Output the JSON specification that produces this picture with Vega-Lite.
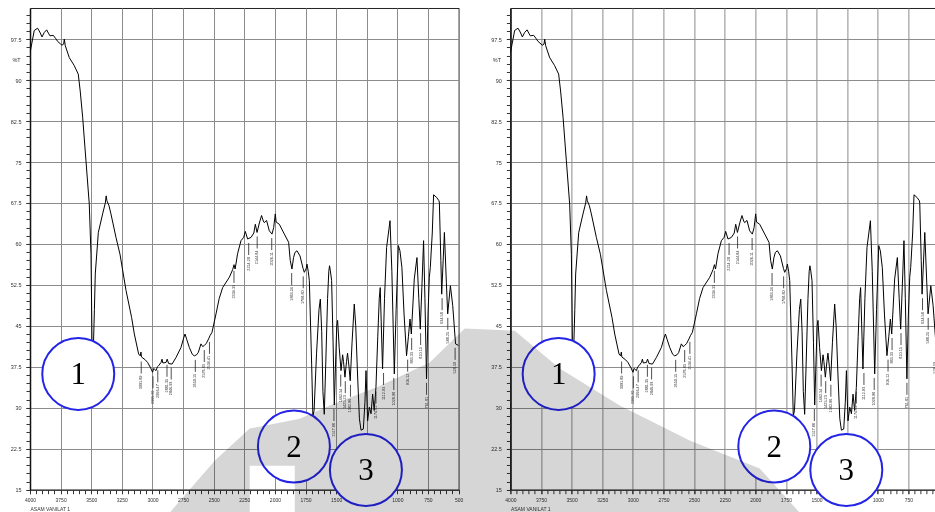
{
  "$schema": "https://vega.github.io/schema/vega-lite/v6.json",
  "background": "white",
  "padding": {"left": 9, "top": 7, "right": 0, "bottom": 0},
  "bounds": "flush",
  "spacing": 51.4,
  "config": {
    "view": {"stroke": "#222", "strokeWidth": 1},
    "font": "Liberation Sans"
  },
  "datasets": {
    "spectrum": [
      {"w":4000,"t":95.0},{"w":3965,"t":99.1},{"w":3938,"t":99.5},{"w":3920,"t":98.8},{"w":3902,"t":97.9},{"w":3884,"t":98.7},{"w":3864,"t":99.2},{"w":3850,"t":98.6},{"w":3837,"t":98.1},{"w":3810,"t":98.2},{"w":3790,"t":97.6},{"w":3775,"t":97.1},{"w":3750,"t":96.6},{"w":3739,"t":96.4},{"w":3725,"t":96.6},{"w":3720,"t":97.5},{"w":3712,"t":96.3},{"w":3700,"t":95.5},{"w":3679,"t":94.1},{"w":3640,"t":92.7},{"w":3606,"t":91.1},{"w":3590,"t":88.0},{"w":3570,"t":83.2},{"w":3543,"t":75.2},{"w":3516,"t":67.3},{"w":3502,"t":58.1},{"w":3496,"t":47.0},{"w":3494,"t":42.3},{"w":3481,"t":42.3},{"w":3474,"t":48.0},{"w":3467,"t":54.5},{"w":3442,"t":62.1},{"w":3407,"t":65.5},{"w":3385,"t":67.5},{"w":3378,"t":68.8},{"w":3372,"t":67.9},{"w":3355,"t":67.0},{"w":3339,"t":65.5},{"w":3298,"t":61.2},{"w":3265,"t":58.1},{"w":3216,"t":51.5},{"w":3170,"t":46.5},{"w":3148,"t":43.5},{"w":3113,"t":39.85},{"w":3100,"t":39.5},{"w":3094,"t":40.2},{"w":3090,"t":39.3},{"w":3060,"t":38.8},{"w":3040,"t":38.3},{"w":3015,"t":37.3},{"w":2999,"t":36.5},{"w":2990,"t":37.2},{"w":2985,"t":37.1},{"w":2971,"t":36.8},{"w":2960,"t":37.5},{"w":2950,"t":37.7},{"w":2930,"t":38.3},{"w":2922,"t":38.9},{"w":2915,"t":38.2},{"w":2889,"t":38.3},{"w":2880,"t":38.9},{"w":2868,"t":38.1},{"w":2840,"t":38.0},{"w":2808,"t":39.2},{"w":2767,"t":41.05},{"w":2745,"t":42.8},{"w":2734,"t":43.5},{"w":2720,"t":42.5},{"w":2699,"t":41.05},{"w":2675,"t":39.8},{"w":2658,"t":39.5},{"w":2640,"t":39.7},{"w":2626,"t":40.1},{"w":2604,"t":41.7},{"w":2590,"t":41.2},{"w":2577,"t":41.4},{"w":2560,"t":41.8},{"w":2542,"t":42.6},{"w":2530,"t":43.2},{"w":2514,"t":43.8},{"w":2481,"t":47.2},{"w":2455,"t":50.0},{"w":2427,"t":52.0},{"w":2372,"t":53.9},{"w":2345,"t":55.3},{"w":2334,"t":56.2},{"w":2325,"t":55.4},{"w":2305,"t":58.2},{"w":2277,"t":60.6},{"w":2255,"t":61.2},{"w":2242,"t":62.3},{"w":2223,"t":60.9},{"w":2195,"t":61.2},{"w":2172,"t":62.0},{"w":2160,"t":63.6},{"w":2146,"t":62.1},{"w":2125,"t":64.0},{"w":2109,"t":65.2},{"w":2095,"t":64.2},{"w":2087,"t":63.9},{"w":2068,"t":64.3},{"w":2046,"t":62.4},{"w":2024,"t":61.8},{"w":2010,"t":63.0},{"w":1997,"t":65.5},{"w":1990,"t":64.0},{"w":1964,"t":63.6},{"w":1923,"t":61.8},{"w":1888,"t":60.3},{"w":1875,"t":57.0},{"w":1861,"t":55.4},{"w":1848,"t":57.5},{"w":1836,"t":58.45},{"w":1820,"t":58.75},{"w":1795,"t":57.8},{"w":1770,"t":55.5},{"w":1760,"t":54.8},{"w":1745,"t":55.5},{"w":1738,"t":56.3},{"w":1728,"t":55.0},{"w":1719,"t":53.3},{"w":1700,"t":38.0},{"w":1690,"t":28.5},{"w":1680,"t":29.5},{"w":1660,"t":40.0},{"w":1640,"t":48.0},{"w":1629,"t":49.9},{"w":1618,"t":44.0},{"w":1608,"t":33.0},{"w":1597,"t":28.8},{"w":1585,"t":38.0},{"w":1570,"t":50.0},{"w":1560,"t":55.0},{"w":1554,"t":56.0},{"w":1548,"t":55.2},{"w":1537,"t":53.3},{"w":1525,"t":42.0},{"w":1515,"t":30.5},{"w":1505,"t":38.0},{"w":1495,"t":45.0},{"w":1488,"t":46.0},{"w":1475,"t":41.0},{"w":1460,"t":36.8},{"w":1447,"t":39.7},{"w":1440,"t":38.5},{"w":1428,"t":35.6},{"w":1415,"t":38.5},{"w":1407,"t":40.0},{"w":1395,"t":37.5},{"w":1385,"t":34.95},{"w":1370,"t":42.0},{"w":1352,"t":49.0},{"w":1340,"t":45.0},{"w":1325,"t":36.0},{"w":1310,"t":28.0},{"w":1297,"t":25.9},{"w":1278,"t":26.1},{"w":1265,"t":31.0},{"w":1256,"t":36.8},{"w":1243,"t":27.6},{"w":1229,"t":30.1},{"w":1215,"t":28.9},{"w":1202,"t":32.5},{"w":1189,"t":29.5},{"w":1175,"t":33.7},{"w":1160,"t":43.0},{"w":1148,"t":50.0},{"w":1140,"t":52.0},{"w":1121,"t":37.1},{"w":1105,"t":50.0},{"w":1088,"t":59.35},{"w":1060,"t":64.25},{"w":1045,"t":55.0},{"w":1025,"t":36.2},{"w":1010,"t":48.0},{"w":992,"t":59.7},{"w":979,"t":58.75},{"w":963,"t":55.7},{"w":945,"t":47.0},{"w":925,"t":39.55},{"w":910,"t":43.0},{"w":897,"t":46.25},{"w":886,"t":43.5},{"w":862,"t":53.6},{"w":840,"t":57.5},{"w":825,"t":50.0},{"w":813,"t":44.4},{"w":800,"t":52.0},{"w":786,"t":60.6},{"w":775,"t":50.0},{"w":762,"t":35.3},{"w":750,"t":47.0},{"w":739,"t":53.9},{"w":731,"t":55.7},{"w":715,"t":62.0},{"w":704,"t":69.0},{"w":679,"t":68.5},{"w":660,"t":67.9},{"w":657,"t":67.5},{"w":645,"t":57.0},{"w":638,"t":50.8},{"w":616,"t":62.1},{"w":600,"t":53.0},{"w":589,"t":47.2},{"w":567,"t":52.35},{"w":548,"t":48.7},{"w":525,"t":41.7},{"w":500,"t":41.4}
    ],
    "peaks": [
      {"w":3091.89,"t":39.2,"label":"3091.89"},
      {"w":2995.81,"t":36.5,"label":"2995.81"},
      {"w":2956.47,"t":37.6,"label":"2956.47"},
      {"w":2881.35,"t":38.6,"label":"2881.35"},
      {"w":2846.93,"t":38.1,"label":"2846.93"},
      {"w":2650.15,"t":39.5,"label":"2650.15"},
      {"w":2576.83,"t":41.3,"label":"2576.83"},
      {"w":2534.41,"t":42.8,"label":"2534.41"},
      {"w":2334.33,"t":55.8,"label":"2334.33"},
      {"w":2214.28,"t":60.9,"label":"2214.28"},
      {"w":2144.84,"t":62.1,"label":"2144.84"},
      {"w":2026.11,"t":61.8,"label":"2026.11"},
      {"w":1863.24,"t":55.4,"label":"1863.24"},
      {"w":1768.80,"t":54.8,"label":"1768.80"},
      {"w":1517.88,"t":30.5,"label":"1517.88"},
      {"w":1462.54,"t":36.8,"label":"1462.54"},
      {"w":1425.23,"t":35.6,"label":"1425.23"},
      {"w":1382.96,"t":34.95,"label":"1382.96"},
      {"w":1174.81,"t":33.7,"label":"1174.81"},
      {"w":1112.93,"t":37.1,"label":"1112.93"},
      {"w":1028.98,"t":36.2,"label":"1028.98"},
      {"w":916.12,"t":39.55,"label":"916.12"},
      {"w":883.33,"t":43.5,"label":"883.33"},
      {"w":810.15,"t":44.4,"label":"810.15"},
      {"w":761.81,"t":35.3,"label":"761.81"},
      {"w":634.58,"t":50.8,"label":"634.58"},
      {"w":588.25,"t":47.2,"label":"588.25"},
      {"w":528.50,"t":41.7,"label":"528.50"}
    ],
    "circles": [
      {"w":3606,"t":36.2,"n":"1"},
      {"w":1845,"t":22.9,"n":"2"},
      {"w":1257,"t":18.6,"n":"3"}
    ],
    "watermark": [
      {"p":"a","w":6782,"t":10.8,"b":10},
      {"p":"a","w":6415,"t":20.3,"b":10},
      {"p":"a","w":6129,"t":26.2,"b":10},
      {"p":"b","w":6129,"t":26.2,"b":19.4},
      {"p":"b","w":5761,"t":27.8,"b":19.4},
      {"p":"c","w":5761,"t":27.8,"b":10},
      {"p":"c","w":5721,"t":28.0,"b":10},
      {"p":"c","w":5476,"t":30.4,"b":10},
      {"p":"c","w":5067,"t":34.0,"b":10},
      {"p":"c","w":4659,"t":38.3,"b":10},
      {"p":"c","w":4373,"t":44.5,"b":10},
      {"p":"c","w":3965,"t":44.1,"b":10},
      {"p":"c","w":3597,"t":37.2,"b":10},
      {"p":"c","w":3107,"t":30.4,"b":10},
      {"p":"c","w":2536,"t":24.0,"b":10},
      {"p":"c","w":1964,"t":18.9,"b":10},
      {"p":"c","w":1638,"t":10.8,"b":10}
    ]
  },
  "hconcat": [
    {
      "width": 428.6,
      "height": 481.7,
      "resolve": {"axis": {"x": "independent", "y": "independent"}},
      "layer": [
        {
          "data": {"name": "spectrum"},
          "mark": {"type": "line", "color": "black", "strokeWidth": 1, "clip": true},
          "encoding": {
            "x": {"field": "w", "type": "quantitative",
              "scale": {"domain": [500, 4000], "reverse": true, "nice": false, "zero": false},
              "axis": {"orient": "bottom", "values": [4000,3750,3500,3250,3000,2750,2500,2250,2000,1750,1500,1250,1000,750,500], "format": "d", "grid": true, "gridColor": "#8c8c8c", "gridWidth": 1, "domainColor": "#222", "tickSize": 4, "tickColor": "#333", "labelFontSize": 5, "labelColor": "#333", "labelPadding": 4, "labelFlush": false, "labelOverlap": false, "title": "ASAM VANILAT 1", "titleFontSize": 5, "titleFontWeight": "normal", "titleColor": "#333", "titleAnchor": "start", "titleAlign": "left", "titleBaseline": "middle", "titleX": 0, "titleY": 19}},
            "y": {"field": "t", "type": "quantitative",
              "scale": {"domain": [15, 103.2], "nice": false, "zero": false},
              "axis": {"orient": "left", "values": [15,22.5,30,37.5,45,52.5,60,67.5,75,82.5,90,97.5], "format": ".1~f", "grid": true, "gridColor": "#8c8c8c", "gridWidth": 1, "domainColor": "#111", "domainWidth": 1.5, "tickSize": 4, "tickColor": "#333", "labelFontSize": 5.5, "labelColor": "#333", "labelPadding": 5, "labelOverlap": false, "title": "%T", "titleAngle": 0, "titleFontSize": 5.5, "titleFontWeight": "normal", "titleColor": "#333", "titleAlign": "center", "titleBaseline": "middle", "titleX": -14, "titleY": 52}}
          }
        },
        {
          "mark": {"type": "rule", "color": "#555", "strokeWidth": 2},
          "encoding": {"x": {"datum": 2000, "type": "quantitative", "axis": null}}
        },
        {
          "data": {"name": "peaks"},
          "mark": {"type": "rule", "color": "#222", "strokeWidth": 0.8, "yOffset": 4, "y2Offset": 16},
          "encoding": {
            "x": {"field": "w", "type": "quantitative", "axis": {"orient": "bottom", "values": [4000,3950,3900,3850,3800,3750,3700,3650,3600,3550,3500,3450,3400,3350,3300,3250,3200,3150,3100,3050,3000,2950,2900,2850,2800,2750,2700,2650,2600,2550,2500,2450,2400,2350,2300,2250,2200,2150,2100,2050,2000,1950,1900,1850,1800,1750,1700,1650,1600,1550,1500,1450,1400,1350,1300,1250,1200,1150,1100,1050,1000,950,900,850,800,750,700,650,600,550,500], "labels": false, "grid": false, "domain": false, "tickSize": 4, "tickColor": "#333", "title": null}},
            "y": {"field": "t", "type": "quantitative", "axis": {"orient": "left", "values": [15,16.5,18,19.5,21,22.5,24,25.5,27,28.5,30,31.5,33,34.5,36,37.5,39,40.5,42,43.5,45,46.5,48,49.5,51,52.5,54,55.5,57,58.5,60,61.5,63,64.5,66,67.5,69,70.5,72,73.5,75,76.5,78,79.5,81,82.5,84,85.5,87,88.5,90,91.5,93,94.5,96,97.5,99,100.5,102], "labels": false, "grid": false, "domain": false, "tickSize": 4, "tickColor": "#333", "title": null}},
            "y2": {"field": "t"}
          }
        },
        {
          "data": {"name": "peaks"},
          "mark": {"type": "text", "angle": 270, "align": "right", "baseline": "middle", "fontSize": 3.8, "color": "#333", "yOffset": 18},
          "encoding": {
            "x": {"field": "w", "type": "quantitative", "axis": null},
            "y": {"field": "t", "type": "quantitative", "axis": null},
            "text": {"field": "label"}
          }
        },
        {
          "data": {"name": "circles"},
          "mark": {"type": "point", "shape": "circle", "size": 5184, "filled": false, "fill": "white", "fillOpacity": 1, "stroke": "#2424e6", "strokeWidth": 2, "opacity": 1, "clip": false},
          "encoding": {
            "x": {"field": "w", "type": "quantitative", "axis": null},
            "y": {"field": "t", "type": "quantitative", "axis": null}
          }
        },
        {
          "data": {"name": "circles"},
          "mark": {"type": "text", "font": "Liberation Serif", "fontSize": 31, "color": "black", "baseline": "middle", "align": "center", "dy": 1},
          "encoding": {
            "x": {"field": "w", "type": "quantitative", "axis": null},
            "y": {"field": "t", "type": "quantitative", "axis": null},
            "text": {"field": "n"}
          }
        },
        {
          "mark": {"type": "text", "fontSize": 5, "color": "#333", "align": "right", "baseline": "middle", "yOffset": 19},
          "encoding": {
            "x": {"datum": 500, "type": "quantitative", "axis": null},
            "y": {"datum": 15, "type": "quantitative", "axis": null},
            "text": {"value": "1/cm"}
          }
        }
      ]
    },
    {
      "width": 428.6,
      "height": 481.7,
      "resolve": {"axis": {"x": "independent", "y": "independent"}},
      "layer": [
        {
          "data": {"name": "spectrum"},
          "mark": {"type": "line", "color": "black", "strokeWidth": 1, "clip": true},
          "encoding": {
            "x": {"field": "w", "type": "quantitative",
              "scale": {"domain": [500, 4000], "reverse": true, "nice": false, "zero": false},
              "axis": {"orient": "bottom", "values": [4000,3750,3500,3250,3000,2750,2500,2250,2000,1750,1500,1250,1000,750,500], "format": "d", "grid": true, "gridColor": "#8c8c8c", "gridWidth": 1, "domainColor": "#222", "tickSize": 4, "tickColor": "#333", "labelFontSize": 5, "labelColor": "#333", "labelPadding": 4, "labelFlush": false, "labelOverlap": false, "title": "ASAM VANILAT 1", "titleFontSize": 5, "titleFontWeight": "normal", "titleColor": "#333", "titleAnchor": "start", "titleAlign": "left", "titleBaseline": "middle", "titleX": 0, "titleY": 19}},
            "y": {"field": "t", "type": "quantitative",
              "scale": {"domain": [15, 103.2], "nice": false, "zero": false},
              "axis": {"orient": "left", "values": [15,22.5,30,37.5,45,52.5,60,67.5,75,82.5,90,97.5], "format": ".1~f", "grid": true, "gridColor": "#8c8c8c", "gridWidth": 1, "domainColor": "#111", "domainWidth": 1.5, "tickSize": 4, "tickColor": "#333", "labelFontSize": 5.5, "labelColor": "#333", "labelPadding": 5, "labelOverlap": false, "title": "%T", "titleAngle": 0, "titleFontSize": 5.5, "titleFontWeight": "normal", "titleColor": "#333", "titleAlign": "center", "titleBaseline": "middle", "titleX": -14, "titleY": 52}}
          }
        },
        {
          "mark": {"type": "rule", "color": "#555", "strokeWidth": 2},
          "encoding": {"x": {"datum": 2000, "type": "quantitative", "axis": null}}
        },
        {
          "data": {"name": "peaks"},
          "mark": {"type": "rule", "color": "#222", "strokeWidth": 0.8, "yOffset": 4, "y2Offset": 16},
          "encoding": {
            "x": {"field": "w", "type": "quantitative", "axis": {"orient": "bottom", "values": [4000,3950,3900,3850,3800,3750,3700,3650,3600,3550,3500,3450,3400,3350,3300,3250,3200,3150,3100,3050,3000,2950,2900,2850,2800,2750,2700,2650,2600,2550,2500,2450,2400,2350,2300,2250,2200,2150,2100,2050,2000,1950,1900,1850,1800,1750,1700,1650,1600,1550,1500,1450,1400,1350,1300,1250,1200,1150,1100,1050,1000,950,900,850,800,750,700,650,600,550,500], "labels": false, "grid": false, "domain": false, "tickSize": 4, "tickColor": "#333", "title": null}},
            "y": {"field": "t", "type": "quantitative", "axis": {"orient": "left", "values": [15,16.5,18,19.5,21,22.5,24,25.5,27,28.5,30,31.5,33,34.5,36,37.5,39,40.5,42,43.5,45,46.5,48,49.5,51,52.5,54,55.5,57,58.5,60,61.5,63,64.5,66,67.5,69,70.5,72,73.5,75,76.5,78,79.5,81,82.5,84,85.5,87,88.5,90,91.5,93,94.5,96,97.5,99,100.5,102], "labels": false, "grid": false, "domain": false, "tickSize": 4, "tickColor": "#333", "title": null}},
            "y2": {"field": "t"}
          }
        },
        {
          "data": {"name": "peaks"},
          "mark": {"type": "text", "angle": 270, "align": "right", "baseline": "middle", "fontSize": 3.8, "color": "#333", "yOffset": 18},
          "encoding": {
            "x": {"field": "w", "type": "quantitative", "axis": null},
            "y": {"field": "t", "type": "quantitative", "axis": null},
            "text": {"field": "label"}
          }
        },
        {
          "data": {"name": "circles"},
          "mark": {"type": "point", "shape": "circle", "size": 5184, "filled": false, "fill": "white", "fillOpacity": 1, "stroke": "#2424e6", "strokeWidth": 2, "opacity": 1, "clip": false},
          "encoding": {
            "x": {"field": "w", "type": "quantitative", "axis": null},
            "y": {"field": "t", "type": "quantitative", "axis": null}
          }
        },
        {
          "data": {"name": "circles"},
          "mark": {"type": "text", "font": "Liberation Serif", "fontSize": 31, "color": "black", "baseline": "middle", "align": "center", "dy": 1},
          "encoding": {
            "x": {"field": "w", "type": "quantitative", "axis": null},
            "y": {"field": "t", "type": "quantitative", "axis": null},
            "text": {"field": "n"}
          }
        },
        {
          "mark": {"type": "text", "fontSize": 5, "color": "#333", "align": "right", "baseline": "middle", "yOffset": 19},
          "encoding": {
            "x": {"datum": 500, "type": "quantitative", "axis": null},
            "y": {"datum": 15, "type": "quantitative", "axis": null},
            "text": {"value": "1/cm"}
          }
        },
        {
          "data": {"name": "watermark"},
          "mark": {"type": "area", "color": "#d6d6d6", "blend": "multiply", "clip": false, "interpolate": "linear"},
          "encoding": {
            "x": {"field": "w", "type": "quantitative", "axis": null},
            "y": {"field": "t", "type": "quantitative", "axis": null},
            "y2": {"field": "b"},
            "detail": {"field": "p", "type": "nominal"}
          }
        }
      ]
    }
  ]
}
